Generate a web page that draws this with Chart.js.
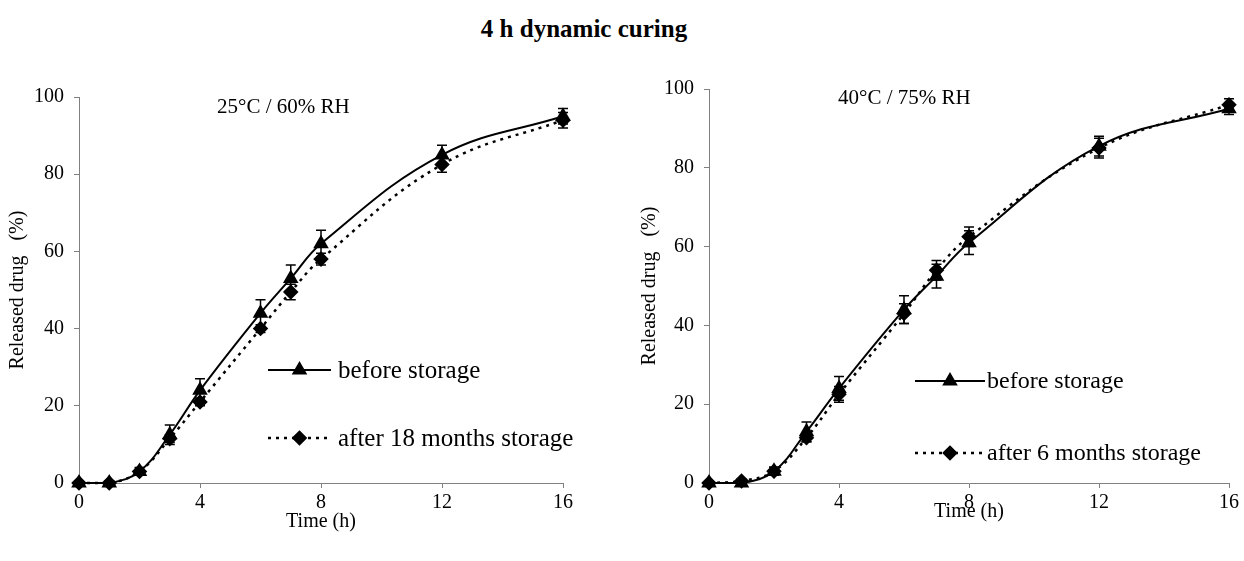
<!DOCTYPE html>
<html>
<head>
<meta charset="utf-8">
<script src="https://cdn.jsdelivr.net/npm/chart.js@4"></script>
<style>
    body { margin: 0; background: #fff; width: 1244px; height: 561px; position: relative; overflow: hidden; font-family: "Liberation Serif", serif; }
    #title { position: absolute; left: 0; width: 1168px; top: 15px; text-align: center; font-weight: bold; font-size: 25px; }
    canvas { position: absolute; top: 0; }
</style>
</head>
<body>
<div id="title">4 h dynamic curing</div>
<canvas id="left" width="622" height="561" style="left:0"></canvas>
<canvas id="right" width="622" height="561" style="left:622px"></canvas>

<script>
// sampling times (h)
const times = [0, 1, 2, 3, 4, 6, 7, 8, 12, 16];
const xTicks = [0, 4, 8, 12, 16];
const yTicks = [0, 20, 40, 60, 80, 100];

// 25°C / 60% RH
const before25 = [0, 0, 3, 12.5, 24, 44, 53, 62, 85, 95];
const before25Err = [0.5, 0.5, 1, 2.5, 3, 3.5, 3.5, 3.5, 2.5, 2];
const after18 = [0, 0, 3, 11.5, 21, 40, 49.5, 58, 82.5, 94];
const after18Err = [0.5, 0.5, 0.5, 1, 1, 1, 2, 1.5, 2, 2];

// 40°C / 75% RH
const before40 = [0, 0, 3, 13, 24, 44, 52.5, 61, 85.5, 95];
const before40Err = [0.5, 0.5, 1, 2.5, 3, 3.5, 3, 3, 2.5, 1.5];
const after6 = [0, 0.5, 3, 11.5, 22.5, 43, 54, 62.5, 85, 96];
const after6Err = [0.5, 0.5, 1, 1, 2, 2.5, 2.5, 2.5, 2.5, 1.5];

const FONT = "Liberation Serif";

// vertical error bars with caps
const errorBars = {
    id: "errorBars",
    afterDatasetsDraw(chart) {
        const { ctx, scales: { x, y } } = chart;
        ctx.save();
        ctx.strokeStyle = "#000";
        ctx.lineWidth = 1.5;
        chart.data.datasets.forEach(ds => {
            if (!ds.errors) return;
            ds.data.forEach((p, i) => {
                const e = ds.errors[i];
                if (!e) return;
                const px = x.getPixelForValue(p.x);
                const top = y.getPixelForValue(p.y + e);
                const bot = y.getPixelForValue(p.y - e);
                ctx.beginPath();
                ctx.moveTo(px, top); ctx.lineTo(px, bot);
                ctx.moveTo(px - 5, top); ctx.lineTo(px + 5, top);
                ctx.moveTo(px - 5, bot); ctx.lineTo(px + 5, bot);
                ctx.stroke();
            });
        });
        ctx.restore();
    }
};

// condition label + legend inside the plot
const insetText = {
    id: "insetText",
    afterDraw(chart, args, opts) {
        const ctx = chart.ctx;
        ctx.save();
        ctx.fillStyle = "#000";
        ctx.textBaseline = "middle";
        ctx.textAlign = "left";
        ctx.font = opts.noteSize + "px '" + FONT + "'";
        ctx.fillText(opts.note, opts.noteX, opts.noteY);

        ctx.font = opts.legendSize + "px '" + FONT + "'";
        chart.data.datasets.forEach((ds, i) => {
            const ly = opts.legendY[i];
            ctx.strokeStyle = "#000";
            ctx.lineWidth = ds.borderWidth;
            ctx.setLineDash(ds.borderDash || []);
            ctx.beginPath();
            ctx.moveTo(opts.lineX0, ly);
            ctx.lineTo(opts.lineX1, ly);
            ctx.stroke();
            ctx.setLineDash([]);
            ctx.fillStyle = "#000";
            Chart.helpers.drawPoint(ctx, {
                pointStyle: ds.pointStyle, radius: ds.pointRadius, rotation: 0, borderWidth: 1
            }, (opts.lineX0 + opts.lineX1) / 2, ly);
            ctx.fillText(ds.label, opts.textX, ly + 1);
        });
        ctx.restore();
    }
};

function points(vals) {
    return times.map((t, i) => ({ x: t, y: vals[i] }));
}

function makeChart(id, series, inset, geom) {
    const datasets = series.map((s, i) => ({
        label: s.label,
        data: points(s.values),
        errors: s.errors,
        borderColor: "#000",
        backgroundColor: "#000",
        pointBackgroundColor: "#000",
        pointBorderColor: "#000",
        borderWidth: i === 0 ? 2 : 2.5,
        borderDash: i === 0 ? [] : [3, 5],
        pointStyle: i === 0 ? "triangle" : "rectRot",
        pointRadius: i === 0 ? 7 : 6,
        tension: 0.4,
        fill: false,
        clip: false
    }));

    return new Chart(document.getElementById(id), {
        type: "line",
        data: { datasets },
        options: {
            responsive: false,
            animation: false,
            layout: { padding: { top: geom.top, right: geom.right, left: 0, bottom: 0 } },
            plugins: {
                legend: { display: false },
                tooltip: { enabled: false },
                insetText: inset
            },
            scales: {
                x: {
                    type: "linear",
                    min: 0, max: 16,
                    afterBuildTicks: s => { s.ticks = xTicks.map(v => ({ value: v })); },
                    afterFit: s => { s.height = geom.xHeight; },
                    grid: { drawOnChartArea: false, tickLength: 5, color: "#808080" },
                    border: { color: "#808080", width: 1 },
                    ticks: { color: "#000", padding: 3, font: { family: FONT, size: 20 } },
                    title: {
                        display: true, text: "Time (h)", color: "#000",
                        font: { family: FONT, size: 20 },
                        padding: { top: 0, bottom: geom.xTitlePad }
                    }
                },
                y: {
                    min: 0, max: 100,
                    afterBuildTicks: s => { s.ticks = yTicks.map(v => ({ value: v })); },
                    afterFit: s => { s.width = geom.yWidth; },
                    grid: { drawOnChartArea: false, tickLength: 5, color: "#808080" },
                    border: { color: "#808080", width: 1 },
                    ticks: { color: "#000", padding: 10, font: { family: FONT, size: 20 } },
                    title: {
                        display: true, text: "Released drug   (%)", color: "#000",
                        font: { family: FONT, size: 20 },
                        padding: { top: geom.yTitlePad, bottom: 0 }
                    }
                }
            }
        },
        plugins: [errorBars, insetText]
    });
}

makeChart("left", [
    { label: "before storage", values: before25, errors: before25Err },
    { label: "after 18 months storage", values: after18, errors: after18Err }
], {
    note: "25°C / 60% RH", noteX: 217, noteY: 107, noteSize: 21,
    legendSize: 25, lineX0: 268, lineX1: 331, textX: 338, legendY: [370, 438]
}, { top: 97, right: 59, xHeight: 78, yWidth: 79, xTitlePad: 27, yTitlePad: 6 });

makeChart("right", [
    { label: "before storage", values: before40, errors: before40Err },
    { label: "after 6 months storage", values: after6, errors: after6Err }
], {
    note: "40°C / 75% RH", noteX: 216, noteY: 98, noteSize: 21,
    legendSize: 24, lineX0: 293, lineX1: 363, textX: 365, legendY: [381, 453]
}, { top: 89, right: 15, xHeight: 78, yWidth: 87, xTitlePad: 37, yTitlePad: 16 });
</script>
</body>
</html>
